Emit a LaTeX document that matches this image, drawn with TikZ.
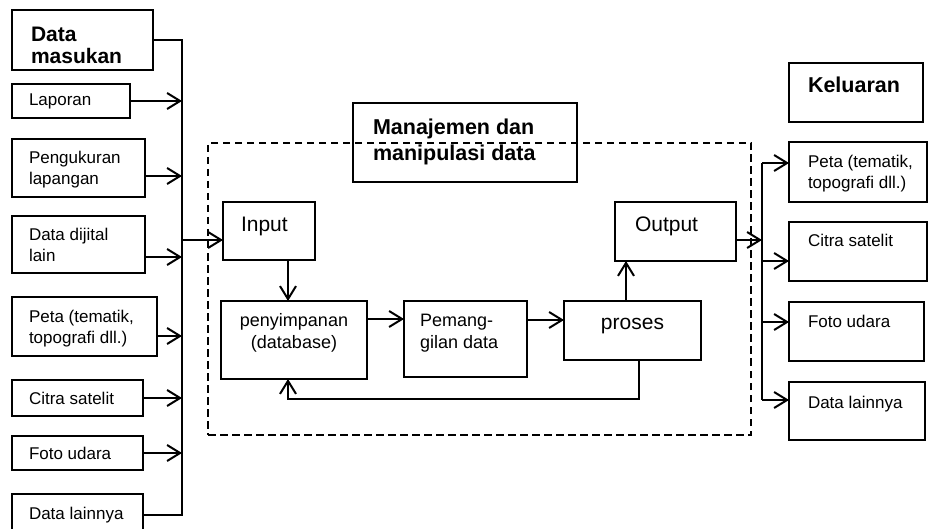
\documentclass[tikz,border=0pt]{standalone}
\usepackage{fontspec}
\setmainfont{Liberation Sans}
\usetikzlibrary{arrows.meta}

\newcommand\fsmall{\fontsize{17}{21}\selectfont}
\newcommand\fmid{\fontsize{18}{22}\selectfont}
\newcommand\fbig{\fontsize{21}{25}\selectfont}
\newcommand\fhead{\bfseries\fontsize{21.5}{26}\selectfont}

\begin{document}
\begin{tikzpicture}[x=1pt,y=-1pt,
  line width=2pt,
  box/.style={draw, inner sep=0pt, outer sep=0pt, anchor=north west},
  lbl/.style={inner sep=0pt, align=left},
  arr/.style={-{Straight Barb[length=13pt,width=16pt,line width=2pt]}},
  dashedbox/.style={draw, dash pattern=on 7.5pt off 4.5pt}]

\useasboundingbox (0,0) rectangle (929,529);
\clip (0,0) rectangle (929,529);

% ---------- input sources ----------
\node[box, minimum width=141pt, minimum height=60pt] (dm)   at (12,10)  {};
\node[box, minimum width=118pt, minimum height=34pt] (lap)  at (12,84)  {};
\node[box, minimum width=133pt, minimum height=58pt] (ukur) at (12,139) {};
\node[box, minimum width=133pt, minimum height=57pt] (dig)  at (12,216) {};
\node[box, minimum width=145pt, minimum height=59pt] (petaL) at (12,297) {};
\node[box, minimum width=131pt, minimum height=36pt] (citL) at (12,380) {};
\node[box, minimum width=131pt, minimum height=34pt] (fotL) at (12,436) {};
\node[box, minimum width=131pt, minimum height=42pt] (dlL)  at (12,494) {};

\node[lbl, anchor=north west, font=\bfseries\fontsize{21}{22}\selectfont] at ([xshift=18pt,yshift=-16pt]dm.north west) {Data\\masukan};
\node[lbl, anchor=west, font=\fsmall] at ([xshift=16pt]lap.west) {Laporan};
\node[lbl, anchor=west, font=\fsmall] at ([xshift=16pt,yshift=-2pt]ukur.west) {Pengukuran\\lapangan};
\node[lbl, anchor=west, font=\fsmall] at ([xshift=16pt]dig.west) {Data dijital\\lain};
\node[lbl, anchor=west, font=\fsmall] at ([xshift=16pt,yshift=-2pt]petaL.west) {Peta (tematik,\\topografi dll.)};
\node[lbl, anchor=west, font=\fsmall] at ([xshift=16pt]citL.west) {Citra satelit};
\node[lbl, anchor=west, font=\fsmall] at ([xshift=16pt]fotL.west) {Foto udara};
\node[lbl, anchor=west, font=\fsmall] at ([xshift=16pt]dlL.west) {Data lainnya};

% collecting line on the left
\coordinate (vtop) at (182,40);
\coordinate (vbot) at (182,515);
\draw (dm.east) -- (vtop) -- (vbot) -- (vbot -| dlL.east);
\draw[arr] (lap.east) -- (lap.east -| vtop);
\draw[arr] ([yshift=-8pt]ukur.east) coordinate (a1) -- (a1 -| vtop);
\draw[arr] ([yshift=-12.5pt]dig.east) coordinate (a2) -- (a2 -| vtop);
\draw[arr] ([yshift=-9.5pt]petaL.east) coordinate (a3) -- (a3 -| vtop);
\draw[arr] (citL.east) -- (citL.east -| vtop);
\draw[arr] (fotL.east) -- (fotL.east -| vtop);

% ---------- data management ----------
\node[box, minimum width=224pt, minimum height=79pt] (mgmt) at (353,103) {};
\node[lbl, anchor=north west, font=\fhead] at ([xshift=19pt,yshift=-15pt]mgmt.north west) {Manajemen dan\\manipulasi data};
\node[dashedbox, inner sep=0pt, outer sep=0pt, anchor=north west,
      minimum width=543pt, minimum height=292pt] (frame) at (208,143) {};

\node[box, minimum width=92pt,  minimum height=58pt] (inp)  at (223,202) {};
\node[box, minimum width=121pt, minimum height=59pt] (out)  at (615,202) {};
\node[box, minimum width=146pt, minimum height=78pt] (peny) at (221,301) {};
\node[box, minimum width=123pt, minimum height=76pt] (pem)  at (404,301) {};
\node[box, minimum width=137pt, minimum height=59pt] (pros) at (564,301) {};

\node[lbl, anchor=base west, font=\fbig] at ([xshift=17pt,yshift=-30pt]inp.north west) {Input};
\node[lbl, anchor=base west, font=\fbig] at ([xshift=19pt,yshift=-30pt]out.north west) {Output};
\node[lbl, align=center, font=\fmid] at ([yshift=7pt]peny.center) {penyimpanan\\(database)};
\node[lbl, anchor=west, font=\fmid] at ([xshift=15pt,yshift=6pt]pem.west) {Pemang-\\gilan data};
\node[lbl, font=\fbig] at ([yshift=4pt]pros.center) {proses};

\draw[arr] ([yshift=-9pt]inp.west -| vtop) coordinate (a4) -- (a4 -| inp.west);
\draw[arr] ([xshift=19pt]inp.south) coordinate (a5) -- (a5 |- peny.north);
\draw[arr] ([yshift=21pt]peny.east) coordinate (a6) -- (a6 -| pem.west);
\draw[arr] ([yshift=19pt]pem.east) coordinate (a7) -- (a7 -| pros.west);
\draw[arr] ([xshift=-6.5pt]pros.north) coordinate (a8) -- (a8 |- out.south);
\coordinate (fb) at (288,399);
\draw[arr] ([xshift=6.5pt]pros.south) |- (fb) -- (fb |- peny.south);

% ---------- outputs ----------
\node[box, minimum width=134pt, minimum height=59pt] (kel)   at (789,63)  {};
\node[box, minimum width=138pt, minimum height=60pt] (petaR) at (789,142) {};
\node[box, minimum width=138pt, minimum height=59pt] (citR)  at (789,222) {};
\node[box, minimum width=135pt, minimum height=59pt] (fotR)  at (789,302) {};
\node[box, minimum width=136pt, minimum height=58pt] (dlR)   at (789,382) {};

\node[lbl, anchor=base west, font=\fhead] at ([xshift=18pt,yshift=-30pt]kel.north west) {Keluaran};
\node[lbl, anchor=west, font=\fsmall] at ([xshift=18pt,yshift=-2pt]petaR.west) {Peta (tematik,\\topografi dll.)};
\node[lbl, anchor=base west, font=\fsmall] at ([xshift=18pt,yshift=-25pt]citR.north west) {Citra satelit};
\node[lbl, anchor=base west, font=\fsmall] at ([xshift=18pt,yshift=-25pt]fotR.north west) {Foto udara};
\node[lbl, anchor=base west, font=\fsmall] at ([xshift=18pt,yshift=-26pt]dlR.north west) {Data lainnya};

\coordinate (rtop) at (762,163);
\coordinate (rbot) at (762,400);
\draw[arr] ([yshift=-8.5pt]out.east) coordinate (a9) -- (a9 -| rtop);
\draw (rtop) -- (rbot);
\draw[arr] (rtop) -- (rtop -| petaR.west);
\draw[arr] ([yshift=-9.5pt]citR.west -| rtop) coordinate (b1) -- (b1 -| citR.west);
\draw[arr] ([yshift=9.5pt]fotR.west -| rtop) coordinate (b2) -- (b2 -| fotR.west);
\draw[arr] (rbot) -- (rbot -| dlR.west);
\end{tikzpicture}
\end{document}
